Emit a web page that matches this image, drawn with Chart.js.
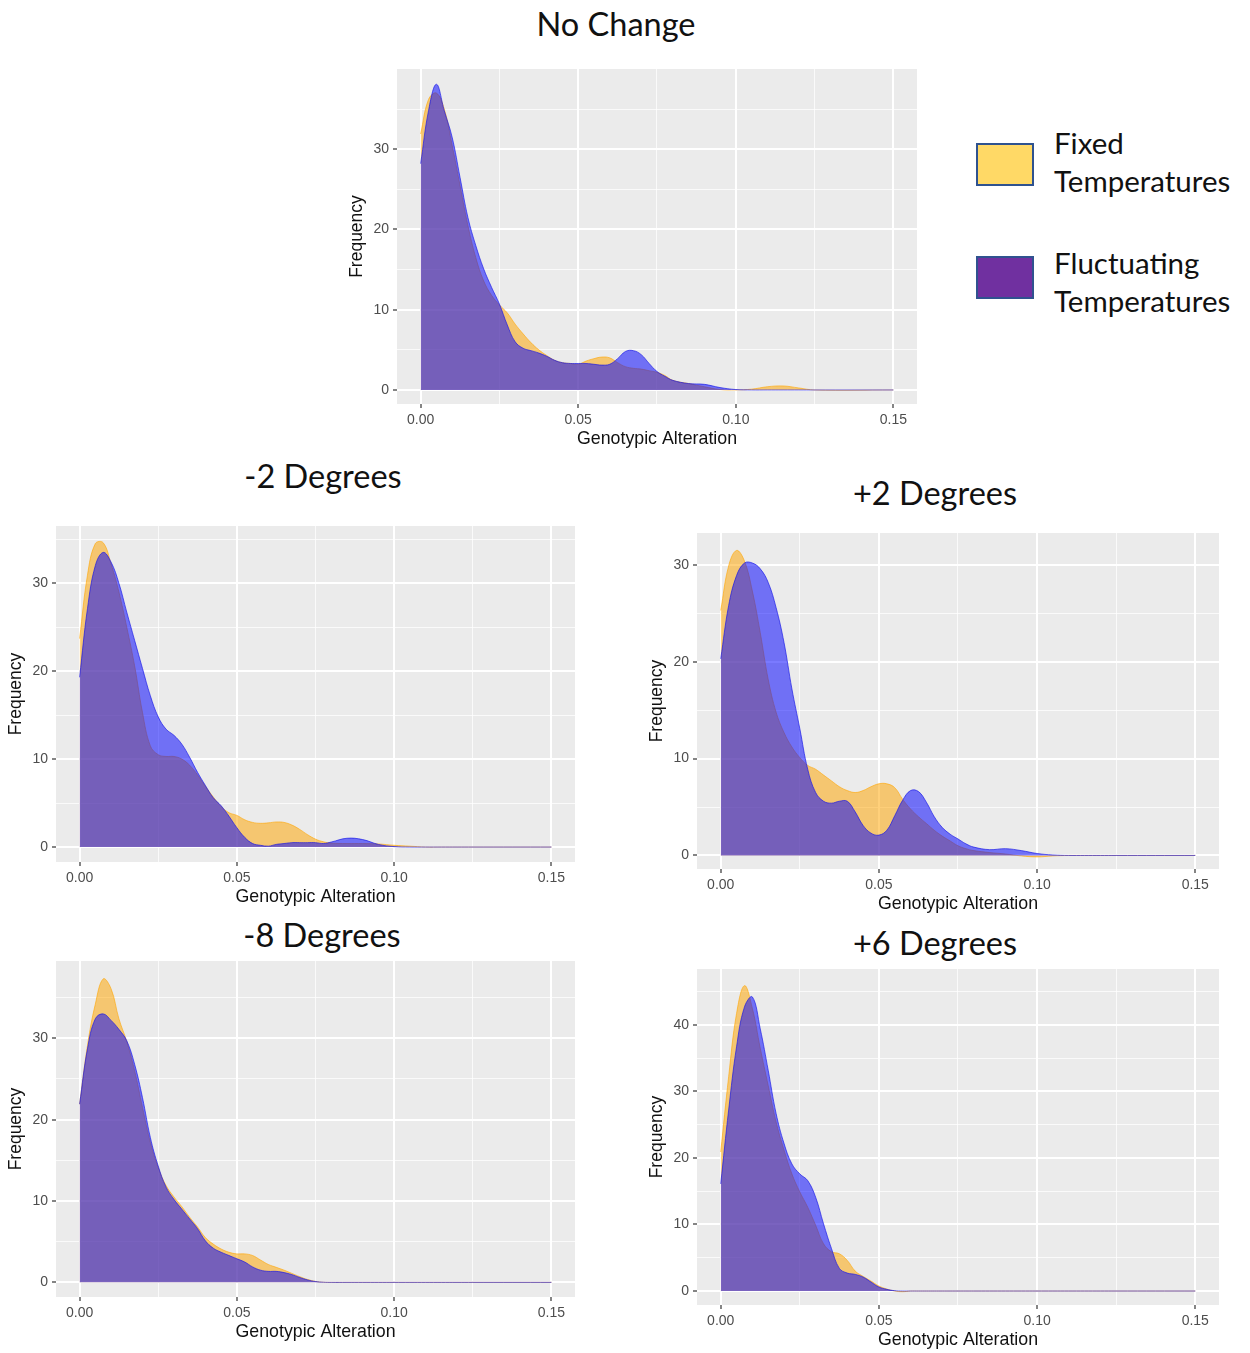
<!DOCTYPE html>
<html>
<head>
<meta charset="utf-8">
<script src="https://cdn.jsdelivr.net/npm/chart.js@4.4.0/dist/chart.umd.min.js"></script>
<style>
  html, body { margin: 0; padding: 0; background: #fff; overflow: hidden; }
  body { width: 1250px; height: 1353px; position: relative; }
  canvas { position: absolute; }
  .title {
    position: absolute; white-space: nowrap; transform: translateX(-50%);
    font-family: Lato, 'Open Sans', sans-serif; font-size: 32.5px; line-height: 1.2; color: #111;
  }
  .legend-box { position: absolute; left: 976px; width: 54px; height: 39px; border: 2px solid #2F528F; }
  .legend-text {
    position: absolute; left: 1054px; white-space: nowrap;
    font-family: Lato, 'Open Sans', sans-serif; font-size: 29.5px; line-height: 38px; color: #111;
  }
</style>
</head>
<body>
<div class="title" style="left:616px; top:4px;">No Change</div>
<div class="title" style="left:323px; top:456px;">-2 Degrees</div>
<div class="title" style="left:935px; top:473px;">+2 Degrees</div>
<div class="title" style="left:322px; top:915px;">-8 Degrees</div>
<div class="title" style="left:935px; top:923px;">+6 Degrees</div>

<div class="legend-box" style="top:143px; background:#FFD966;"></div>
<div class="legend-text" style="top:124px;">Fixed<br>Temperatures</div>
<div class="legend-box" style="top:256px; background:#7030A0;"></div>
<div class="legend-text" style="top:244px;">Fluctuating<br>Temperatures</div>

<script>
// x positions of the density estimates (genotypic alteration)
const alteration = [0, 0.0025, 0.005, 0.0075, 0.01, 0.0125, 0.015, 0.0175, 0.02, 0.0225,
  0.025, 0.0275, 0.03, 0.0325, 0.035, 0.0375, 0.04, 0.0425, 0.045, 0.0475,
  0.05, 0.0525, 0.055, 0.0575, 0.06, 0.0625, 0.065, 0.0675, 0.07, 0.0725,
  0.075, 0.0775, 0.08, 0.085, 0.09, 0.095, 0.1, 0.105, 0.11, 0.115, 0.12, 0.125, 0.15];

const xMajor = [0, 0.05, 0.10, 0.15];
const xMinor = [0.025, 0.075, 0.125];

// No Change
const noChangeFixed = [31.9, 36.2, 37.0, 35.0, 30.5, 25.5, 20.5, 16.5, 13.6, 11.8,
  10.6, 9.6, 8.2, 7.0, 5.9, 5.0, 4.3, 3.7, 3.4, 3.3,
  3.2, 3.6, 3.9, 4.1, 4.0, 3.4, 2.9, 2.7, 2.6, 2.4,
  2.2, 1.8, 1.2, 0.8, 0.4, 0.05, 0, 0.1, 0.4, 0.5, 0.25, 0, 0];
const noChangeFluct = [28.2, 34.8, 38.1, 34.8, 31.5, 26.5, 21.5, 18.0, 15.1, 12.8,
  10.7, 8.1, 6.0, 5.2, 4.9, 4.6, 4.2, 3.7, 3.4, 3.3,
  3.3, 3.3, 3.2, 3.1, 3.2, 3.9, 4.8, 4.9, 4.4, 3.3,
  2.3, 1.7, 1.2, 0.8, 0.7, 0.3, 0.05, 0, 0, 0, 0, 0, 0];

// -2 Degrees
const minus2Fixed = [23.7, 30.9, 34.5, 34.6, 32.2, 29.0, 25.0, 20.6, 15.3, 11.5,
  10.5, 10.3, 10.3, 10.0, 9.3, 8.2, 6.9, 5.7, 4.6, 3.9,
  3.6, 3.1, 2.8, 2.7, 2.75, 2.85, 2.8, 2.5, 2.0, 1.4,
  0.9, 0.6, 0.45, 0.4, 0.4, 0.35, 0.2, 0.1, 0, 0, 0, 0, 0];
const minus2Fluct = [19.3, 27.1, 32.0, 33.5, 32.4, 30.0, 26.7, 23.5, 20.3, 17.2,
  14.8, 13.4, 12.7, 11.7, 10.2, 8.5, 7.0, 5.6, 4.7, 3.5,
  2.2, 1.1, 0.4, 0.2, 0.1, 0.3, 0.4, 0.5, 0.5, 0.5,
  0.5, 0.4, 0.57, 1.0, 0.85, 0.3, 0.05, 0, 0, 0, 0, 0, 0];

// +2 Degrees
const plus2Fixed = [25.3, 29.9, 31.5, 30.4, 27.3, 23.0, 18.2, 14.8, 12.7, 11.2,
  10.1, 9.3, 8.9, 8.3, 7.7, 7.1, 6.7, 6.5, 6.7, 7.1,
  7.4, 7.4, 7.0, 5.8, 4.8, 4.0, 3.3, 2.6, 2.0, 1.5,
  1.0, 0.7, 0.5, 0.3, 0.15, -0.05, -0.15, -0.05, 0, 0, 0, 0, 0];
const plus2Fluct = [20.3, 25.8, 28.9, 30.2, 30.2, 29.6, 28.2, 25.6, 22.0, 17.2,
  13.1, 8.9, 6.5, 5.6, 5.4, 5.6, 5.6, 4.5, 3.1, 2.3,
  2.1, 2.6, 4.1, 5.7, 6.7, 6.6, 5.5, 4.0, 2.9, 2.2,
  1.7, 1.2, 0.86, 0.6, 0.7, 0.5, 0.2, 0.05, 0, 0, 0, 0, 0];

// -8 Degrees
const minus8Fixed = [21.9, 29.1, 34.2, 37.3, 36.1, 32.4, 29.6, 26.0, 21.5, 17.2,
  14.1, 11.9, 10.5, 9.3, 8.0, 6.8, 5.5, 4.7, 4.1, 3.7,
  3.5, 3.5, 3.3, 2.75, 2.2, 1.85, 1.5, 1.1, 0.7, 0.35,
  0.12, 0.02, 0, 0, 0, 0, 0, 0, 0, 0, 0, 0, 0];
const minus8Fluct = [21.9, 28.7, 32.4, 33.0, 32.2, 31.1, 29.7, 26.8, 22.7, 17.8,
  14.3, 11.7, 10.2, 9.0, 7.8, 6.6, 5.1, 4.2, 3.7, 3.3,
  2.9, 2.5, 1.9, 1.5, 1.35, 1.35, 1.2, 0.95, 0.6, 0.3,
  0.1, 0.02, 0, 0, 0, 0, 0, 0, 0, 0, 0, 0, 0];

// +6 Degrees
const plus6Fixed = [20.9, 32.2, 41.7, 45.9, 42.5, 36.5, 30.9, 25.4, 21.2, 17.6,
  14.9, 12.6, 9.9, 7.1, 5.9, 5.6, 4.6, 3.0, 2.2, 1.5,
  0.75, 0.3, 0, -0.1, 0, 0, 0, 0, 0, 0,
  0, 0, 0, 0, 0, 0, 0, 0, 0, 0, 0, 0, 0];
const plus6Fluct = [16.1, 27.2, 36.7, 42.7, 44.2, 39.4, 33.2, 26.7, 22.2, 19.1,
  17.6, 16.6, 14.1, 10.1, 6.4, 3.4, 2.7, 2.5, 2.1, 1.35,
  0.6, 0.25, 0.05, 0, 0, 0, 0, 0, 0, 0,
  0, 0, 0, 0, 0, 0, 0, 0, 0, 0, 0, 0, 0];

const FIXED_FILL = 'rgba(255,165,0,0.52)';
const FIXED_LINE = 'rgba(255,165,0,0.6)';
const FLUCT_FILL = 'rgba(0,0,255,0.52)';
const FLUCT_LINE = 'rgba(20,20,230,0.65)';
const AXIS_FONT = "'Liberation Sans', Arial, sans-serif";

// gray panel rectangles [left, top, right, bottom] in page pixels
const panels = [
  { fixed: noChangeFixed, fluct: noChangeFluct, yMin: -1.75, yMax: 40.0,
    yMajor: [0, 10, 20, 30], yMinor: [5, 15, 25, 35], box: [397, 69, 917, 404] },
  { fixed: minus2Fixed, fluct: minus2Fluct, yMin: -1.7, yMax: 36.5,
    yMajor: [0, 10, 20, 30], yMinor: [5, 15, 25, 35], box: [56, 526, 575, 862] },
  { fixed: plus2Fixed, fluct: plus2Fluct, yMin: -1.4, yMax: 33.3,
    yMajor: [0, 10, 20, 30], yMinor: [5, 15, 25], box: [697, 533, 1219, 869] },
  { fixed: minus8Fixed, fluct: minus8Fluct, yMin: -1.8, yMax: 39.5,
    yMajor: [0, 10, 20, 30], yMinor: [5, 15, 25, 35], box: [56, 961, 575, 1297] },
  { fixed: plus6Fixed, fluct: plus6Fluct, yMin: -2.1, yMax: 48.4,
    yMajor: [0, 10, 20, 30, 40], yMinor: [5, 15, 25, 35, 45], box: [697, 969, 1219, 1305] }
];

const AXIS_W = 56, AXIS_H = 48, PAD_T = 8, PAD_R = 20;

const panelBackground = {
  id: 'panelBackground',
  beforeDraw(chart) {
    const { ctx, chartArea: a } = chart;
    ctx.save();
    ctx.fillStyle = '#EBEBEB';
    ctx.fillRect(a.left, a.top, a.right - a.left, a.bottom - a.top);
    ctx.restore();
  }
};

const near = (list, v) => list.some(m => Math.abs(m - v) < 1e-9);

function gridOptions(major) {
  return {
    color: c => (c.tick && near(major, c.tick.value)) ? '#FFFFFF' : 'rgba(255,255,255,0.75)',
    lineWidth: c => (c.tick && near(major, c.tick.value)) ? 2 : 1,
    tickColor: c => (c.tick && near(major, c.tick.value)) ? '#333333' : 'rgba(0,0,0,0)',
    tickLength: 4,
    tickWidth: 1.2
  };
}

function buildChart(p) {
  const [L, T, R, B] = p.box;
  const canvas = document.createElement('canvas');
  canvas.width = R - L + AXIS_W + PAD_R;
  canvas.height = B - T + PAD_T + AXIS_H;
  canvas.style.left = (L - AXIS_W) + 'px';
  canvas.style.top = (T - PAD_T) + 'px';
  document.body.appendChild(canvas);

  new Chart(canvas, {
    type: 'line',
    data: {
      datasets: [
        { label: 'Fixed Temperatures', order: 2,
          data: alteration.map((x, i) => ({ x, y: p.fixed[i] })),
          fill: 'origin', backgroundColor: FIXED_FILL, borderColor: FIXED_LINE, borderWidth: 1 },
        { label: 'Fluctuating Temperatures', order: 1,
          data: alteration.map((x, i) => ({ x, y: p.fluct[i] })),
          fill: 'origin', backgroundColor: FLUCT_FILL, borderColor: FLUCT_LINE, borderWidth: 1 }
      ]
    },
    options: {
      responsive: false,
      animation: false,
      devicePixelRatio: 1,
      layout: { padding: { top: PAD_T, right: PAD_R, left: 0, bottom: 0 } },
      elements: { point: { radius: 0 }, line: { tension: 0.4 } },
      plugins: { legend: { display: false }, tooltip: { enabled: false } },
      scales: {
        x: {
          type: 'linear', min: -0.0075, max: 0.1575,
          afterBuildTicks: s => { s.ticks = [...xMajor, ...xMinor].sort((a, b) => a - b).map(v => ({ value: v })); },
          afterFit: s => { s.height = AXIS_H; s.paddingLeft = 0; s.paddingRight = 0; },
          grid: gridOptions(xMajor),
          border: { display: false },
          ticks: {
            autoSkip: false, maxRotation: 0, padding: 4, color: '#4D4D4D',
            font: { family: AXIS_FONT, size: 14 },
            callback: v => near(xMajor, v) ? v.toFixed(2) : ''
          },
          title: { display: true, text: 'Genotypic Alteration', color: '#111',
            font: { family: AXIS_FONT, size: 17.8 }, padding: { top: 0, bottom: 2 } }
        },
        y: {
          type: 'linear', min: p.yMin, max: p.yMax,
          afterBuildTicks: s => { s.ticks = [...p.yMajor, ...p.yMinor].sort((a, b) => a - b).map(v => ({ value: v })); },
          // fixed axis width, and no extra label padding so the panel keeps its exact box
          afterFit: s => { s.width = AXIS_W; s.paddingTop = 0; s.paddingBottom = 0; },
          grid: gridOptions(p.yMajor),
          border: { display: false },
          ticks: {
            autoSkip: false, padding: 4, color: '#4D4D4D',
            font: { family: AXIS_FONT, size: 14 },
            callback: v => near(p.yMajor, v) ? String(v) : ''
          },
          title: { display: true, text: 'Frequency', color: '#111',
            font: { family: AXIS_FONT, size: 17.5 }, padding: { top: 6, bottom: 0 } }
        }
      }
    },
    plugins: [panelBackground]
  });
}

panels.forEach(buildChart);
</script>
</body>
</html>
